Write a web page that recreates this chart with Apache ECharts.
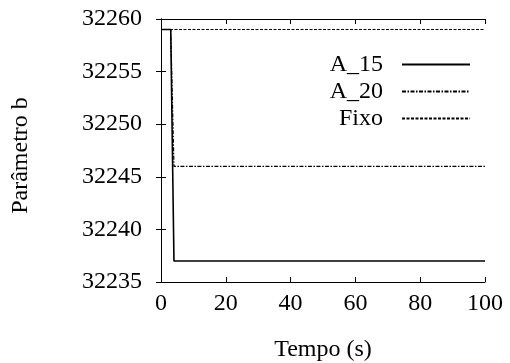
<!DOCTYPE html>
<html><head><meta charset="utf-8">
<script src="https://cdn.jsdelivr.net/npm/echarts@6/dist/echarts.min.js"></script>
<style>html,body{margin:0;padding:0;background:#fff}#c{width:510px;height:363px}</style>
</head><body><div id="c"></div>
<script>
var seriesNames = ['A_15', 'A_20', 'Fixo'];
var timeA15 = [0, 3, 4, 100];
var valA15 = [32259, 32259, 32237, 32237];
var timeA20 = [0, 3, 4, 100];
var valA20 = [32259, 32259, 32246, 32246];
var timeFixo = [0, 100];
var valFixo = [32259, 32259];
var xTicks = [0, 20, 40, 60, 80, 100];
var yTicks = [32235, 32240, 32245, 32250, 32255, 32260];

function pairs(t, v) { return t.map(function (x, i) { return [x, v[i]]; }); }
var font = 'Liberation Serif';
var fs = 24;
var chart = echarts.init(document.getElementById('c'), null, {renderer: 'canvas'});
var axisCommon = {
  axisLine: {show: true, lineStyle: {color: '#000', width: 1}},
  axisTick: {show: true, inside: true, length: 5, lineStyle: {color: '#000'}},
  splitLine: {show: false}
};
chart.setOption({
  animation: false,
  backgroundColor: '#fff',
  grid: {left: 161, right: 25, top: 19, bottom: 81, show: false, containLabel: false, outerBoundsMode: 'none'},
  legend: {
    orient: 'vertical', right: 34, top: 47, itemWidth: 68, itemHeight: 12, itemGap: 2,
    align: 'right',
    data: seriesNames,
    itemStyle: {color: 'rgba(0,0,0,0)', borderWidth: 0, opacity: 0},
    textStyle: {fontFamily: font, fontSize: fs, lineHeight: 25, color: '#000', width: 70, align: 'right', padding: [0, 14, 0, 0]}
  },
  xAxis: [
    Object.assign({type: 'value', min: xTicks[0], max: xTicks[xTicks.length - 1], interval: 20,
      name: 'Tempo (s)', nameLocation: 'middle', nameGap: 56,
      nameTextStyle: {fontFamily: font, fontSize: fs, color: '#000'},
      axisLabel: {fontFamily: font, fontSize: fs, color: '#000', margin: 10, formatter: function (v) { return String(v); }}}, axisCommon),
    Object.assign({type: 'value', position: 'top', min: xTicks[0], max: xTicks[xTicks.length - 1], interval: 20,
      axisLabel: {show: false}}, axisCommon)
  ],
  yAxis: [
    Object.assign({type: 'value', min: yTicks[0], max: yTicks[yTicks.length - 1], interval: 5,
      name: 'Parâmetro b', nameLocation: 'middle', nameGap: 128, nameRotate: 90,
      nameTextStyle: {fontFamily: font, fontSize: fs, color: '#000', padding: [0, 10, 0, 0]},
      axisLabel: {fontFamily: font, fontSize: fs, color: '#000', margin: 19, formatter: function (v) { return String(v); }}}, axisCommon),
    Object.assign({type: 'value', position: 'right', min: yTicks[0], max: yTicks[yTicks.length - 1], interval: 5,
      axisLabel: {show: false}}, axisCommon)
  ],
  series: [
    {name: seriesNames[0], type: 'line', data: pairs(timeA15, valA15), symbol: 'none',
      lineStyle: {color: '#000', width: 1.6, type: 'solid'}, itemStyle: {color: '#000'}},
    {name: seriesNames[1], type: 'line', data: pairs(timeA20, valA20), symbol: 'none',
      lineStyle: {color: '#000', width: 1.2, type: [4, 1.5, 1.5, 1.5]}, itemStyle: {color: '#000'}},
    {name: seriesNames[2], type: 'line', data: pairs(timeFixo, valFixo), symbol: 'none',
      lineStyle: {color: '#000', width: 1.2, type: [3, 1.5]}, itemStyle: {color: '#000'}}
  ]
});
</script></body></html>
